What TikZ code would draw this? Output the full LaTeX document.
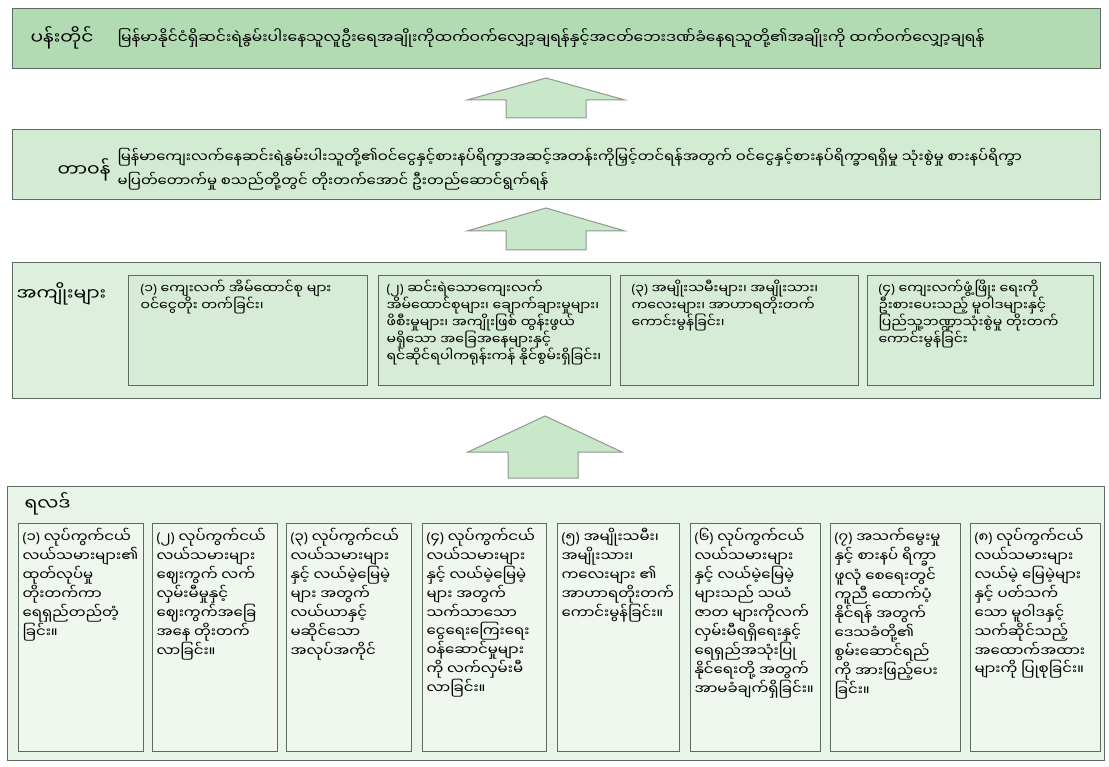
\documentclass[tikz,border=0pt]{standalone}
\usepackage{fontspec}
\usepackage{tikz}
\newfontfamily\mya[Script=Myanmar,FakeStretch=1.1]{Noto Sans Myanmar UI}
\newfontfamily\latn{Noto Sans}
\newcommand\num[1]{{\latn(}#1{\latn)}}
\definecolor{edge}{HTML}{5E6B60}
\definecolor{topfill}{HTML}{B2DBB4}
\definecolor{midfill}{HTML}{D2EBD2}
\definecolor{outfill}{HTML}{DDF0DD}
\definecolor{infill}{HTML}{D6ECD6}
\definecolor{lowfill}{HTML}{EAF5EA}
\definecolor{cellfill}{HTML}{EFF7EF}
\definecolor{arrfill}{HTML}{C9E7C9}

\begin{document}
\begin{tikzpicture}[x=1pt, y=-1pt,
  band/.style = {draw=edge, line width=1.3pt, anchor=north west, inner sep=0pt},
  cell/.style = {draw=edge, line width=1.1pt, anchor=north west, inner sep=0pt},
  head/.style = {font=\mya\fontsize{17}{20}\selectfont, anchor=west},
  body/.style = {font=\mya\fontsize{13.5}{24}\selectfont, anchor=west, align=left},
  mid/.style = {font=\mya\fontsize{12.8}{17}\selectfont, anchor=north west, align=left},
  low/.style = {font=\mya\fontsize{13.6}{17.5}\selectfont, anchor=north west, align=left},
  bigarrow/.style = {draw=edge!70, fill=arrfill, line width=1pt}]
\useasboundingbox (0,0) rectangle (1109,767);

% ပန်းတိုင်
\node[band, fill=topfill, minimum width=1088pt, minimum height=60pt] (goal) at (12,8) {};
\node[head] (goalname) at (27,38) {ပန်းတိုင်};
\node[body, font=\mya\fontsize{14.1}{24}\selectfont] (goaltext) at (114,38) {မြန်မာနိုင်ငံရှိဆင်းရဲနွမ်းပါးနေသူလူဦးရေအချိုးကိုထက်ဝက်လျှော့ချရန်နှင့်အငတ်ဘေးဒဏ်ခံနေရသူတို့၏အချိုးကို ထက်ဝက်လျှော့ချရန်};

% တာဝန်
\node[band, fill=midfill, minimum width=1088pt, minimum height=70pt] (task) at (12,129) {};
\node[head] (taskname) at (54,170) {တာဝန်};
\node[body] (tasktext) at (114,169) {မြန်မာကျေးလက်နေဆင်းရဲနွမ်းပါးသူတို့၏ဝင်ငွေနှင့်စားနပ်ရိက္ခာအဆင့်အတန်းကိုမြှင့်တင်ရန်အတွက် ဝင်ငွေနှင့်စားနပ်ရိက္ခာရရှိမှု သုံးစွဲမှု စားနပ်ရိက္ခာ\\
မပြတ်တောက်မှု စသည်တို့တွင် တိုးတက်အောင် ဦးတည်ဆောင်ရွက်ရန်};

% အကျိုးများ
\node[band, fill=outfill, minimum width=1088pt, minimum height=136pt] (gain) at (12,262) {};
\node[head] (gainname) at (13,294) {အကျိုးများ};
\node[cell, fill=infill, minimum width=239pt, minimum height=110pt] (g1) at (128,275) {};
\node[cell, fill=infill, minimum width=232pt, minimum height=110pt] (g2) at (378,275) {};
\node[cell, fill=infill, minimum width=238pt, minimum height=110pt] (g3) at (620,275) {};
\node[cell, fill=infill, minimum width=226pt, minimum height=110pt] (g4) at (867,275) {};
\node[mid] at ([xshift=9pt,yshift=-2pt]g1.north west) {\num{၁} ကျေးလက် အိမ်ထောင်စု များ\\ဝင်ငွေတိုး တက်ခြင်း၊};
\node[mid] at ([xshift=5pt,yshift=-2pt]g2.north west) {\num{၂} ဆင်းရဲသောကျေးလက်\\အိမ်ထောင်စုများ၊ ချောက်ချားမှုများ၊\\ဖိစီးမှုများ၊ အကျိုးဖြစ် ထွန်းဖွယ်\\မရှိသော အခြေအနေများနှင့်\\ရင်ဆိုင်ရပါကရုန်းကန် နိုင်စွမ်းရှိခြင်း၊};
\node[mid] at ([xshift=8pt,yshift=-2pt]g3.north west) {\num{၃} အမျိုးသမီးများ၊ အမျိုးသား၊\\ကလေးများ၊ အာဟာရတိုးတက်\\ကောင်းမွန်ခြင်း၊};
\node[mid] at ([xshift=8pt,yshift=-2pt]g4.north west) {\num{၄} ကျေးလက်ဖွံ့ဖြိုး ရေးကို\\ဦးစားပေးသည့် မူဝါဒများနှင့်\\ပြည်သူ့ဘဏ္ဍာသုံးစွဲမှု တိုးတက်\\ကောင်းမွန်ခြင်း};

% ရလဒ်
\node[band, fill=lowfill, minimum width=1097pt, minimum height=274pt] (result) at (7,486) {};
\node[head] (resultname) at (21,504) {ရလဒ်};
\node[cell, fill=cellfill, minimum width=125pt, minimum height=228pt] (r1) at (18,523) {};
\node[cell, fill=cellfill, minimum width=125pt, minimum height=228pt] (r2) at (152,523) {};
\node[cell, fill=cellfill, minimum width=125pt, minimum height=228pt] (r3) at (286,523) {};
\node[cell, fill=cellfill, minimum width=124pt, minimum height=228pt] (r4) at (422,523) {};
\node[cell, fill=cellfill, minimum width=122pt, minimum height=228pt] (r5) at (557,523) {};
\node[cell, fill=cellfill, minimum width=130pt, minimum height=228pt] (r6) at (690,523) {};
\node[cell, fill=cellfill, minimum width=130pt, minimum height=228pt] (r7) at (830,523) {};
\node[cell, fill=cellfill, minimum width=130pt, minimum height=228pt] (r8) at (970,523) {};
\node[low] at ([xshift=1pt,yshift=-2pt]r1.north west) {\num{၁} လုပ်ကွက်ငယ်\\လယ်သမားများ၏\\ထုတ်လုပ်မှု\\တိုးတက်ကာ\\ရေရှည်တည်တံ့\\ခြင်း။};
\node[low] at ([xshift=1pt,yshift=-2pt]r2.north west) {\num{၂} လုပ်ကွက်ငယ်\\လယ်သမားများ\\ဈေးကွက် လက်\\လှမ်းမီမှုနှင့်\\ဈေးကွက်အခြေ\\အနေ တိုးတက်\\လာခြင်း။};
\node[low] at ([xshift=1pt,yshift=-2pt]r3.north west) {\num{၃} လုပ်ကွက်ငယ်\\လယ်သမားများ\\နှင့် လယ်မဲ့မြေမဲ့\\များ အတွက်\\လယ်ယာနှင့်\\မဆိုင်သော\\အလုပ်အကိုင်};
\node[low] at ([xshift=1pt,yshift=-2pt]r4.north west) {\num{၄} လုပ်ကွက်ငယ်\\လယ်သမားများ\\နှင့် လယ်မဲ့မြေမဲ့\\များ အတွက်\\သက်သာသော\\ငွေရေးကြေးရေး\\ဝန်ဆောင်မှုများ\\ကို လက်လှမ်းမီ\\လာခြင်း။};
\node[low] at ([xshift=1pt,yshift=-2pt]r5.north west) {\num{၅} အမျိုးသမီး၊\\အမျိုးသား၊\\ကလေးများ ၏\\အာဟာရတိုးတက်\\ကောင်းမွန်ခြင်း။};
\node[low] at ([xshift=1pt,yshift=-2pt]r6.north west) {\num{၆} လုပ်ကွက်ငယ်\\လယ်သမားများ\\နှင့် လယ်မဲ့မြေမဲ့\\များသည် သယံ\\ဇာတ များကိုလက်\\လှမ်းမီရရှိရေးနှင့်\\ရေရှည်အသုံးပြု\\နိုင်ရေးတို့ အတွက်\\အာမခံချက်ရှိခြင်း။};
\node[low] at ([xshift=1pt,yshift=-2pt]r7.north west) {\num{၇} အသက်မွေးမှု\\နှင့် စားနပ် ရိက္ခာ\\ဖူလုံ စေရေးတွင်\\ကူညီ ထောက်ပံ့\\နိုင်ရန် အတွက်\\ဒေသခံတို့၏\\စွမ်းဆောင်ရည်\\ကို အားဖြည့်ပေး\\ခြင်း။};
\node[low] at ([xshift=1pt,yshift=-2pt]r8.north west) {\num{၈} လုပ်ကွက်ငယ်\\လယ်သမားများ\\လယ်မဲ့ မြေမဲ့များ\\နှင့် ပတ်သက်\\သော မူဝါဒနှင့်\\သက်ဆိုင်သည့်\\အထောက်အထား\\များကို ပြုစုခြင်း။};

% block arrows
\draw[bigarrow] (506,118) -- (506,100) -- (467,100) -- (546,78) -- (625,100) -- (586,100) -- (586,118) -- cycle;
\draw[bigarrow] (506,250) -- (506,231) -- (467,231) -- (546,208) -- (625,231) -- (586,231) -- (586,250) -- cycle;
\draw[bigarrow] (508,478) -- (508,452) -- (468,452) -- (545,416) -- (622,452) -- (578,452) -- (578,478) -- cycle;
\end{tikzpicture}
\end{document}
